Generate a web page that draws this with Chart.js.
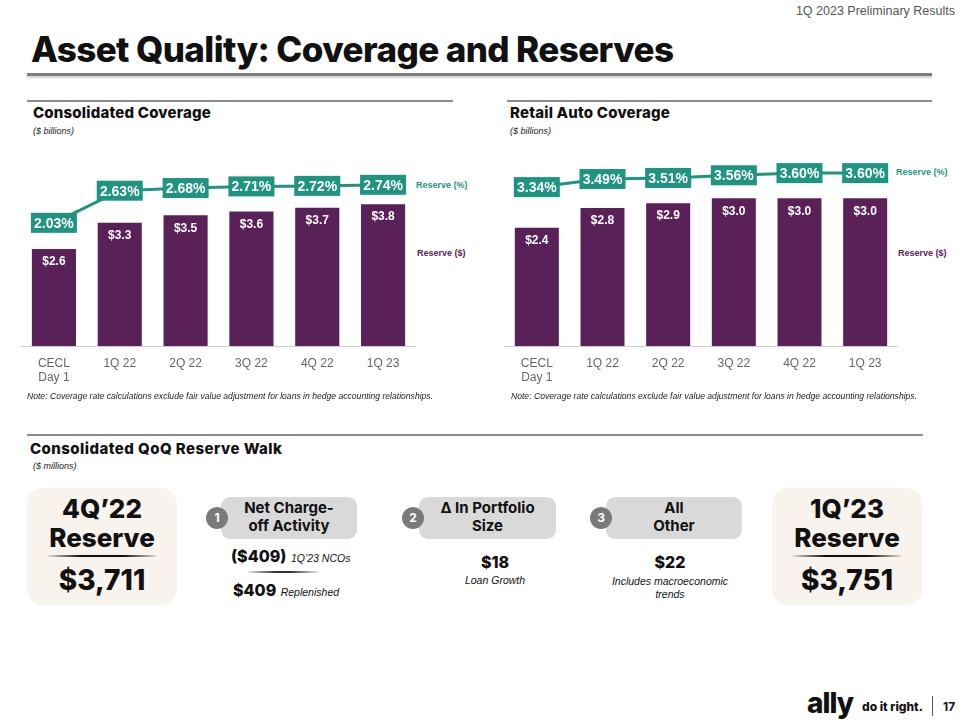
<!DOCTYPE html>
<html>
<head>
<meta charset="utf-8">
<script src="https://cdn.jsdelivr.net/npm/chart.js@4.4.0/dist/chart.umd.min.js"></script>
<style>
  body { margin: 0; background: #fff; font-family: Arial, "Liberation Sans", sans-serif; }
  .page { position: relative; width: 960px; height: 720px; overflow: hidden; }
  .abs { position: absolute; }
  .hdr { font-family: Inter, sans-serif; font-weight: 800; color: #111; }
  .rule { position: absolute; height: 2px; background: #8c8c8c; }
  .unit { font-style: italic; font-size: 9px; color: #222; }
  .note { font-style: italic; font-size: 8.6px; color: #222; }
  .legend { font-size: 9px; font-weight: bold; }
  .tile { position: absolute; background: #f9f3ed; border-radius: 16px; text-align: center;
          font-family: Inter, sans-serif; font-weight: 800; color: #111; }
  .step { position: absolute; background: #d9d9d9; border-radius: 9px; text-align: center;
          font-family: Inter, sans-serif; font-weight: 700; font-size: 15px; line-height: 18px; color: #111; }
  .num { position: absolute; width: 22px; height: 22px; border-radius: 50%; background: #7a7a7a;
         color: #fff; font-family: Inter, sans-serif; font-weight: 700; font-size: 12px;
         line-height: 22px; text-align: center; }
  .big { font-family: Inter, sans-serif; font-weight: 800; font-size: 16px; color: #111; }
  .it { font-style: italic; font-size: 10.5px; color: #111; }
  canvas { position: absolute; }
</style>
</head>
<body>
<div class="page">
  <div class="abs" style="right:5px;top:4px;font-size:12.5px;color:#555;">1Q 2023 Preliminary Results</div>
  <div class="abs hdr" style="left:31px;top:28px;font-size:35px;line-height:42px;letter-spacing:-0.6px;">Asset Quality: Coverage and Reserves</div>
  <div class="rule" style="left:27px;top:73px;width:905px;height:3px;background:#7f7f7f;box-shadow:0 2px 2px rgba(0,0,0,0.18);"></div>

  <!-- left panel -->
  <div class="rule" style="left:27px;top:100px;width:426px;"></div>
  <div class="abs hdr" style="left:33px;top:103px;font-size:15px;letter-spacing:0.2px;">Consolidated Coverage</div>
  <div class="abs unit" style="left:33px;top:126px;">($ billions)</div>
  <div class="abs legend" style="left:416px;top:180px;color:#1f9480;">Reserve (%)</div>
  <div class="abs legend" style="left:417px;top:248px;color:#5a2158;">Reserve ($)</div>
  <canvas id="consolidatedChart" style="left:21px;top:150px;width:395px;height:250px;"></canvas>
  <div class="abs note" style="left:27px;top:391px;">Note: Coverage rate calculations exclude fair value adjustment for loans in hedge accounting relationships.</div>

  <!-- right panel -->
  <div class="rule" style="left:507px;top:100px;width:425px;"></div>
  <div class="abs hdr" style="left:510px;top:103px;font-size:15px;letter-spacing:0.2px;">Retail Auto Coverage</div>
  <div class="abs unit" style="left:510px;top:126px;">($ billions)</div>
  <div class="abs legend" style="left:896px;top:167px;color:#1f9480;">Reserve (%)</div>
  <div class="abs legend" style="left:898px;top:248px;color:#5a2158;">Reserve ($)</div>
  <canvas id="retailChart" style="left:504px;top:150px;width:394px;height:250px;"></canvas>
  <div class="abs note" style="left:511px;top:391px;">Note: Coverage rate calculations exclude fair value adjustment for loans in hedge accounting relationships.</div>

  <!-- reserve walk -->
  <div class="rule" style="left:27px;top:434px;width:896px;"></div>
  <div class="abs hdr" style="left:30px;top:439px;font-size:15px;letter-spacing:0.45px;">Consolidated QoQ Reserve Walk</div>
  <div class="abs unit" style="left:33px;top:461px;">($ millions)</div>

  <div class="tile" style="left:27px;top:488px;width:150px;height:117px;">
    <div style="font-size:26px;line-height:29px;margin-top:6px;">4Q’22</div>
    <div style="font-size:26px;line-height:29px;">Reserve</div>
    <div style="margin:3px auto 0;width:108px;height:2px;background:linear-gradient(90deg,rgba(0,0,0,0.1),#111 30%,#111 70%,rgba(0,0,0,0.1));"></div>
    <div style="font-size:28px;line-height:36px;margin-top:5px;">$3,711</div>
  </div>

  <div class="step" style="left:221px;top:497px;width:136px;height:40px;padding-top:2px;">Net Charge-<br>off Activity</div>
  <div class="num" style="left:206px;top:507px;">1</div>
  <div class="abs" style="left:231px;top:546px;"><span class="big">($409)</span> <span class="it">1Q’23 NCOs</span></div>
  <div class="abs" style="left:248px;top:571px;width:70px;height:2px;background:linear-gradient(90deg,rgba(0,0,0,0.1),#333 40%,#333 60%,rgba(0,0,0,0.1));"></div>
  <div class="abs" style="left:233px;top:580px;"><span class="big">$409</span> <span class="it">Replenished</span></div>

  <div class="step" style="left:419px;top:497px;width:137px;height:40px;padding-top:2px;">∆ In Portfolio<br>Size</div>
  <div class="num" style="left:402px;top:507px;">2</div>
  <div class="abs big" style="left:420px;width:150px;top:552px;text-align:center;">$18</div>
  <div class="abs it" style="left:420px;width:150px;top:574px;text-align:center;">Loan Growth</div>

  <div class="step" style="left:606px;top:497px;width:136px;height:40px;padding-top:2px;">All<br>Other</div>
  <div class="num" style="left:590px;top:507px;">3</div>
  <div class="abs big" style="left:595px;width:150px;top:552px;text-align:center;">$22</div>
  <div class="abs it" style="left:595px;width:150px;top:575px;text-align:center;line-height:13px;">Includes macroeconomic<br>trends</div>

  <div class="tile" style="left:772px;top:488px;width:150px;height:117px;">
    <div style="font-size:26px;line-height:29px;margin-top:6px;">1Q’23</div>
    <div style="font-size:26px;line-height:29px;">Reserve</div>
    <div style="margin:3px auto 0;width:108px;height:2px;background:linear-gradient(90deg,rgba(0,0,0,0.1),#111 30%,#111 70%,rgba(0,0,0,0.1));"></div>
    <div style="font-size:28px;line-height:36px;margin-top:5px;">$3,751</div>
  </div>

  <!-- footer -->
  <div class="abs" style="left:807px;top:688px;font-family:Inter,sans-serif;font-weight:800;font-size:28px;line-height:30px;color:#111;letter-spacing:-1px;">ally</div>
  <div class="abs" style="left:862px;top:699px;font-family:Inter,sans-serif;font-weight:800;font-size:12px;color:#111;">do it right.</div>
  <div class="abs" style="left:932px;top:696px;width:1px;height:20px;background:#555;"></div>
  <div class="abs" style="left:943px;top:699px;font-family:Inter,sans-serif;font-weight:700;font-size:12px;color:#111;">17</div>
</div>

<script>
const categories = [['CECL', 'Day 1'], '1Q 22', '2Q 22', '3Q 22', '4Q 22', '1Q 23'];

const consolidatedReserve = [2.6, 3.3, 3.5, 3.6, 3.7, 3.8];
const consolidatedCoverage = [2.03, 2.63, 2.68, 2.71, 2.72, 2.74];

const retailReserve = [2.4, 2.8, 2.9, 3.0, 3.0, 3.0];
const retailCoverage = [3.34, 3.49, 3.51, 3.56, 3.60, 3.60];

const PURPLE = '#5a2158';
const TEAL = '#1f9480';

// value labels: white text inside bars, teal boxes on the line
const labelPlugin = {
  id: 'labels',
  afterDatasetsDraw(chart) {
    const ctx = chart.ctx;
    ctx.save();
    ctx.textAlign = 'center';
    ctx.textBaseline = 'middle';

    const bars = chart.getDatasetMeta(0);
    ctx.font = 'bold 12px Arial';
    ctx.fillStyle = '#fff';
    bars.data.forEach((bar, i) => {
      const v = chart.data.datasets[0].data[i];
      ctx.fillText('$' + v.toFixed(1), bar.x, bar.y + 13);
    });

    const pts = chart.getDatasetMeta(1);
    ctx.font = 'bold 14px Arial';
    pts.data.forEach((pt, i) => {
      const v = chart.data.datasets[1].data[i];
      ctx.fillStyle = TEAL;
      ctx.fillRect(pt.x - 23, pt.y - 10, 46, 20);
      ctx.fillStyle = '#fff';
      ctx.fillText(v.toFixed(2) + '%', pt.x, pt.y + 1);
    });
    ctx.restore();
  }
};

function coverageChart(id, reserve, coverage, y1Max, y2Min, y2Max) {
  const el = document.getElementById(id);
  return new Chart(el, {
    type: 'bar',
    data: {
      labels: categories,
      datasets: [{
        type: 'bar',
        label: 'Reserve ($)',
        data: reserve,
        backgroundColor: PURPLE,
        barPercentage: 0.67,
        categoryPercentage: 1,
        yAxisID: 'y',
        order: 2
      }, {
        type: 'line',
        label: 'Reserve (%)',
        data: coverage,
        borderColor: TEAL,
        borderWidth: 3,
        pointRadius: 0,
        tension: 0,
        yAxisID: 'y2',
        order: 1
      }]
    },
    options: {
      responsive: false,
      animation: false,
      layout: { padding: 0 },
      plugins: { legend: { display: false }, tooltip: { enabled: false } },
      scales: {
        x: {
          grid: { display: false },
          border: { display: true, color: '#d0d0d0', width: 1 },
          ticks: { color: '#666', font: { family: 'Arial', size: 12, lineHeight: 1.15 }, padding: 3, maxRotation: 0 },
          afterFit(scale) { scale.height = 54; }
        },
        y: { display: false, min: 0, max: y1Max },
        y2: { display: false, min: y2Min, max: y2Max }
      }
    },
    plugins: [labelPlugin]
  });
}

function sizeCanvas(id) {
  const el = document.getElementById(id);
  el.width = parseInt(el.style.width);
  el.height = parseInt(el.style.height);
}
sizeCanvas('consolidatedChart');
sizeCanvas('retailChart');

coverageChart('consolidatedChart', consolidatedReserve, consolidatedCoverage, 5.25, -0.27, 3.39);
coverageChart('retailChart', retailReserve, retailCoverage, 3.98, 0.385, 4.03);
</script>
</body>
</html>
